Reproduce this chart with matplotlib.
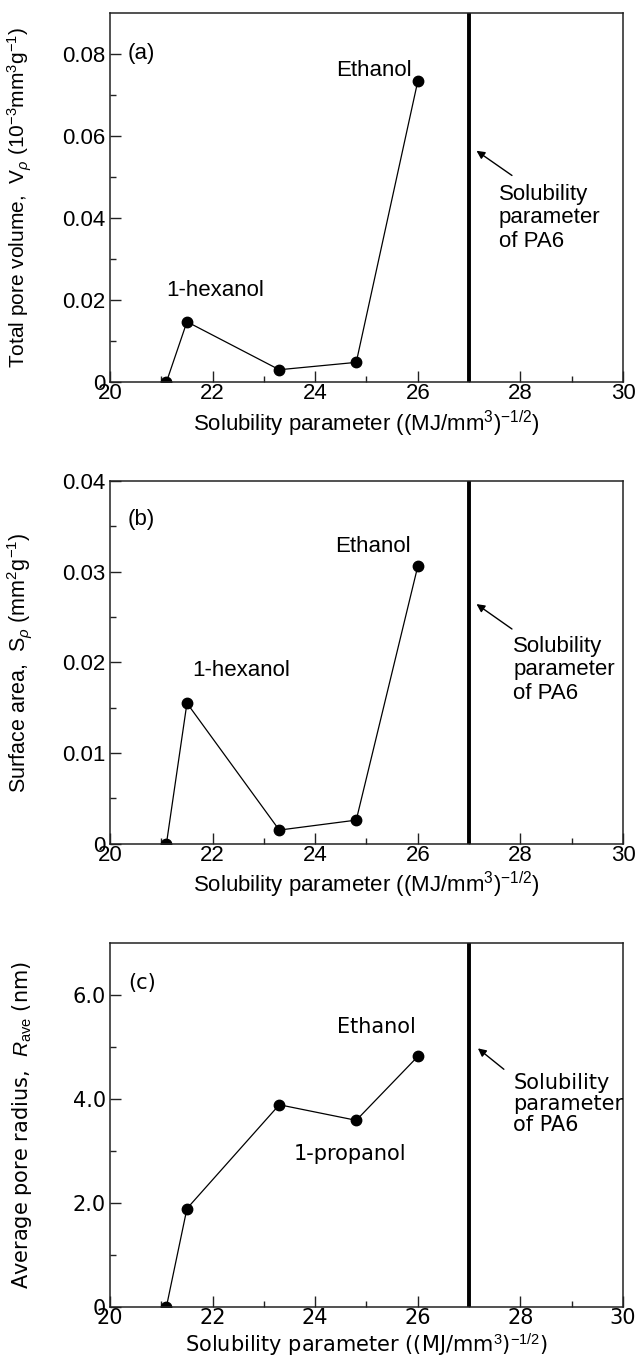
import matplotlib
matplotlib.use('Agg')
import matplotlib.pyplot as plt
import numpy as np

# solubility parameter of each solvent
sol_param = [21.1, 21.5, 23.3, 24.8, 26.0]
pa6_param = 27.0

# (a) total pore volume
pore_volume = [0.0, 0.0147, 0.0030, 0.0048, 0.0734]
# (b) surface area
surface_area = [0.0, 0.0155, 0.0015, 0.0026, 0.0306]
# (c) average pore radius
pore_radius = [0.0, 1.89, 3.89, 3.59, 4.82]

plt.rcParams['font.family'] = ['Liberation Sans', 'DejaVu Sans']
plt.rcParams['mathtext.fontset'] = 'custom'
plt.rcParams['mathtext.rm'] = 'Liberation Sans'
plt.rcParams['mathtext.it'] = 'Liberation Sans:italic'

fs = 16
fs_c = 15
xlabel = r'Solubility parameter ((MJ/mm$^{3}$)$^{-1/2}$)'
cfont = ['DejaVu Sans']
afont = ['Liberation Sans']

fig = plt.figure(figsize=(6.37, 13.61), dpi=100)
ax_a = fig.add_axes([0.1727, 0.7193, 0.8053, 0.2711])
ax_b = fig.add_axes([0.1727, 0.3801, 0.8053, 0.2665])
ax_c = fig.add_axes([0.1727, 0.0399, 0.8053, 0.2670])


def style_axis(ax, ylim, major, minor, fmt, font, size):
    ax.axvline(pa6_param, color='black', lw=2.8)
    ax.set_xlim(20, 30)
    ax.set_ylim(*ylim)
    ax.set_xticks(np.arange(20, 31, 2))
    ax.set_xticks(np.arange(21, 30, 2), minor=True)
    ax.set_yticks(major)
    ax.set_yticks(minor, minor=True)
    ax.set_yticklabels([fmt(v) for v in major], fontsize=size, family=font)
    ax.set_xticklabels([str(v) for v in range(20, 31, 2)], fontsize=size, family=font)
    ax.tick_params(which='major', direction='in', length=8, width=1, color='#222222')
    ax.tick_params(which='minor', direction='in', length=4.5, width=1, color='#222222')
    ax.tick_params(axis='x', pad=1)
    ax.tick_params(axis='y', pad=3)
    for s in ax.spines.values():
        s.set_linewidth(1.1)
        s.set_color('#222222')
    ax.set_xlabel(xlabel, fontsize=size, family=font, labelpad=3)
    ax.yaxis.set_label_coords(-0.148, 0.5)


def arrow(ax, head, tail):
    ax.annotate('', xy=head, xytext=tail,
                arrowprops=dict(arrowstyle='-|>', color='black', lw=1, mutation_scale=12))


# ---- (a)
ax_a.plot(sol_param, pore_volume, color='black', lw=0.9, marker='o', ms=7.5)
style_axis(ax_a, (0, 0.09), [0, 0.02, 0.04, 0.06, 0.08], [0.01, 0.03, 0.05, 0.07],
           lambda v: '0' if v == 0 else f'{v:.2f}', afont, fs)
ax_a.set_ylabel(r'Total pore volume,  V$_{\it{\rho}}$ (10$^{-3}$mm$^{3}$g$^{-1}$)', fontsize=15)
ax_a.text(20.35, 0.0802, '(a)', fontsize=fs, va='center')
ax_a.text(25.88, 0.0761, 'Ethanol', fontsize=fs, ha='right', va='center')
ax_a.text(21.1, 0.0224, '1-hexanol', fontsize=fs, va='center')
ax_a.text(27.58, 0.0483, 'Solubility\nparameter\nof PA6', fontsize=fs, va='top', linespacing=1.15)
arrow(ax_a, (27.10, 0.0568), (27.88, 0.0500))

# ---- (b)
ax_b.plot(sol_param, surface_area, color='black', lw=0.9, marker='o', ms=7.5)
style_axis(ax_b, (0, 0.04), [0, 0.01, 0.02, 0.03, 0.04], [0.005, 0.015, 0.025, 0.035],
           lambda v: '0' if v == 0 else f'{v:.2f}', afont, fs)
ax_b.set_ylabel(r'Surface area,  S$_{\it{\rho}}$ (mm$^{2}$g$^{-1}$)', fontsize=15.5)
ax_b.text(20.35, 0.0358, '(b)', fontsize=fs, va='center')
ax_b.text(25.87, 0.0328, 'Ethanol', fontsize=fs, ha='right', va='center')
ax_b.text(21.61, 0.0191, '1-hexanol', fontsize=fs, va='center')
ax_b.text(27.86, 0.0229, 'Solubility\nparameter\nof PA6', fontsize=fs, va='top', linespacing=1.15)
arrow(ax_b, (27.10, 0.0266), (27.88, 0.0235))

# ---- (c)
ax_c.plot(sol_param, pore_radius, color='black', lw=0.9, marker='o', ms=7.5)
style_axis(ax_c, (0, 7), [0, 2, 4, 6], [1, 3, 5],
           lambda v: '0' if v == 0 else f'{v:.1f}', cfont, fs_c)
ax_c.set_ylabel(r'Average pore radius,  $\mathit{R}_{\rm ave}$ (nm)', fontsize=fs_c, family=cfont)
ax_c.text(20.35, 6.24, '(c)', fontsize=fs_c, va='center', family=cfont)
ax_c.text(25.97, 5.38, 'Ethanol', fontsize=fs_c, ha='right', va='center', family=cfont)
ax_c.text(25.77, 2.95, '1-propanol', fontsize=fs_c, ha='right', va='center', family=cfont)
ax_c.text(27.86, 4.50, 'Solubility\nparameter\nof PA6', fontsize=fs_c, va='top', linespacing=1.05,
          family=cfont)
arrow(ax_c, (27.13, 5.01), (27.72, 4.54))

fig.savefig('out.png', dpi=100)
